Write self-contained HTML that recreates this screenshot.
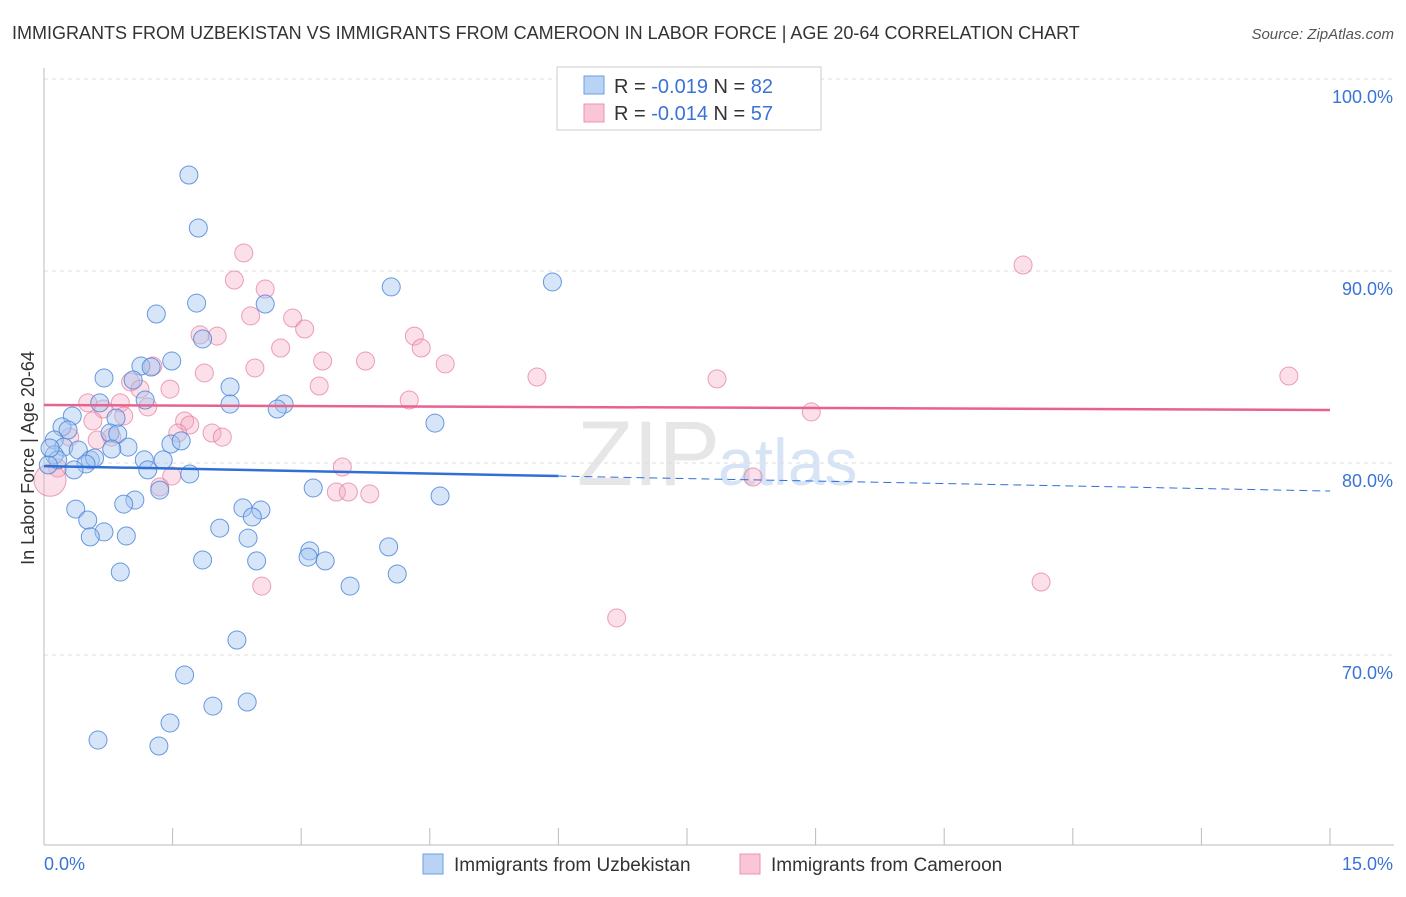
<!DOCTYPE html>
<html><head><meta charset="utf-8"><style>
body{margin:0;background:#fff;font-family:"Liberation Sans",sans-serif;}
svg text{font-family:"Liberation Sans",sans-serif;}
</style></head><body>
<svg id="c" width="1406" height="892">
<text x="12" y="39" font-size="18" fill="#333">IMMIGRANTS FROM UZBEKISTAN VS IMMIGRANTS FROM CAMEROON IN LABOR FORCE | AGE 20-64 CORRELATION CHART</text>
<text x="1394" y="39" font-size="15" fill="#555" font-style="italic" text-anchor="end">Source: ZipAtlas.com</text>
<text x="720" y="485" font-size="92" fill="#e6e6e6" text-anchor="end" font-family="Liberation Serif">ZIP</text>
<text x="718" y="485" font-size="66" fill="#d6e4f5">atlas</text>
<g id="grid"></g><g id="pts"></g><g id="lines"></g>
<text x="34" y="458" font-size="18" fill="#333" transform="rotate(-90 34 458)" text-anchor="middle">In Labor Force | Age 20-64</text>
<g>
<rect x="557" y="67" width="264" height="63" fill="#fff" stroke="#ccc"/>
<rect x="584" y="76" width="20" height="18" fill="#b9d3f5" stroke="#6d9ee0"/>
<rect x="584" y="104" width="20" height="18" fill="#f9c6d6" stroke="#ec93b0"/>
<text x="614" y="93" font-size="20" fill="#333">R = <tspan fill="#3a73d6">-0.019</tspan>   N = <tspan fill="#3a73d6">82</tspan></text>
<text x="614" y="120" font-size="20" fill="#333">R = <tspan fill="#3a73d6">-0.014</tspan>   N = <tspan fill="#3a73d6">57</tspan></text>
</g>
<g>
<rect x="423" y="854" width="20" height="20" fill="#b9d3f5" stroke="#6d9ee0"/>
<text x="454" y="871" font-size="19" fill="#333">Immigrants from Uzbekistan</text>
<rect x="740" y="854" width="20" height="20" fill="#f9c6d6" stroke="#ec93b0"/>
<text x="771" y="871" font-size="19" fill="#333">Immigrants from Cameroon</text>
</g>
</svg>
<script>
const xTicks=[0,1.5,3,4.5,6,7.5,9,10.5,12,13.5,15];
const yTicks=[70,80,90,100];
const yTickLabels=["70.0%","80.0%","90.0%","100.0%"];
const xLabels=["0.0%","15.0%"];
const blueX=[1.69,1.80,1.78,2.58,4.05,5.93,1.31,1.85,1.49,1.13,1.25,0.70,1.04,2.17,2.17,0.65,1.18,2.80,2.72,0.33,0.84,4.56,0.21,0.28,0.12,0.77,0.86,1.48,1.60,0.98,0.79,0.23,0.40,0.12,0.16,0.54,0.59,0.49,1.17,1.39,0.35,1.21,1.70,1.35,3.14,4.62,1.06,0.93,0.37,2.32,2.53,2.43,0.51,2.05,0.70,0.54,0.96,2.38,4.02,3.10,3.08,3.28,1.85,2.48,0.89,4.12,3.57,2.25,1.64,1.97,2.37,1.47,0.63,1.34,0.05,0.07];
const blueY=[95.0,92.24,88.33,88.28,89.17,89.43,87.76,86.46,85.31,85.05,85.0,84.43,84.32,83.96,83.07,83.13,83.28,83.07,82.81,82.45,82.34,82.08,81.88,81.72,81.20,81.56,81.51,80.99,81.15,80.83,80.73,80.83,80.68,80.42,80.16,80.16,80.26,79.95,80.16,80.16,79.64,79.64,79.43,78.59,78.70,78.28,78.07,77.86,77.60,77.66,77.55,77.19,77.03,76.61,76.41,76.15,76.20,76.09,75.63,75.42,75.10,74.90,74.95,74.90,74.32,74.22,73.59,70.78,68.96,67.34,67.55,66.46,65.57,65.26,79.9,80.78];
const pinkX=[2.33,11.42,2.22,2.58,2.41,2.90,3.04,1.82,2.02,4.32,4.40,2.76,3.25,3.75,4.68,2.46,1.27,1.87,5.75,7.85,14.52,1.01,1.12,1.47,3.21,4.26,0.51,0.89,1.21,0.69,0.93,8.95,0.57,1.64,1.70,1.56,1.96,2.08,0.30,0.79,0.62,3.48,0.16,1.49,8.27,1.35,3.41,3.55,3.80,2.54,11.63,6.68,0.07];
const pinkY=[90.94,90.31,89.53,89.06,87.66,87.55,86.98,86.67,86.61,86.61,85.99,85.99,85.31,85.31,85.16,84.95,85.05,84.69,84.48,84.38,84.53,84.22,83.85,83.85,84.01,83.28,83.13,83.13,82.92,82.81,82.45,82.66,82.19,82.19,81.98,81.56,81.56,81.35,81.35,81.35,81.20,79.79,79.74,79.32,79.27,78.75,78.49,78.49,78.39,73.59,73.80,71.93,79.1];
const blueTrend=[79.84,78.54];
const pinkTrend=[83.02,82.76];
const NS="http://www.w3.org/2000/svg";
function X(v){return 44+v*(1330-44)/15;}
function Y(v){return 79+(100-v)*19.2;}
function mk(t,a,p){const e=document.createElementNS(NS,t);for(const k in a)e.setAttribute(k,a[k]);p.appendChild(e);return e;}
const g=document.getElementById('grid');
yTicks.forEach((v,i)=>{
 const l=mk('line',{x1:44,x2:1394,y1:Y(v),y2:Y(v),stroke:'#ddd','stroke-dasharray':'4 4'},g);
 
 
 const t=mk('text',{x:1393,y:Y(v)+24,'font-size':18,fill:'#3a73d6','text-anchor':'end'},g);
 t.textContent=yTickLabels[i];
 
 
});
const ax=mk('line',{x1:44,x2:44,y1:68,y2:845,stroke:'#bbb'},g);


const bx=mk('line',{x1:44,x2:1394,y1:845,y2:845,stroke:'#bbb'},g);


xTicks.forEach(v=>{
 const l=mk('line',{x1:X(v),x2:X(v),y1:828,y2:845,stroke:'#bbb'},g);
 
 
});
[[0,'start',xLabels[0]],[15,'end',xLabels[1]]].forEach(([v,a,s])=>{
 const t=mk('text',{x:v==0?X(v):1393,y:870,'font-size':18,fill:'#3a73d6','text-anchor':a},g);
 t.textContent=s;
 
 
});
const p=document.getElementById('pts');
pinkX.forEach((v,i)=>{
 const c=mk('circle',{cx:X(v),cy:Y(pinkY[i]),r:i==pinkX.length-1?16:9,fill:'rgba(244,165,193,0.35)',stroke:'rgba(228,120,158,0.7)','stroke-width':1},p);
 
 
});
blueX.forEach((v,i)=>{
 const c=mk('circle',{cx:X(v),cy:Y(blueY[i]),r:9,fill:'rgba(165,198,240,0.45)',stroke:'rgba(70,130,215,0.8)','stroke-width':1},p);
 
 
});
const L=document.getElementById('lines');
const by=x=>blueTrend[0]+(blueTrend[1]-blueTrend[0])*x/15;
let a=mk('line',{x1:X(0),y1:Y(by(0)),x2:X(6),y2:Y(by(6)),stroke:'#2f6fd6','stroke-width':2.5},L);


a=mk('line',{x1:X(6),y1:Y(by(6)),x2:X(15),y2:Y(by(15)),stroke:'#2f6fd6','stroke-width':1,'stroke-dasharray':'8 5'},L);


a=mk('line',{x1:X(0),y1:Y(pinkTrend[0]),x2:X(15),y2:Y(pinkTrend[1]),stroke:'#e8628f','stroke-width':2.5},L);


</script>
</body></html>
